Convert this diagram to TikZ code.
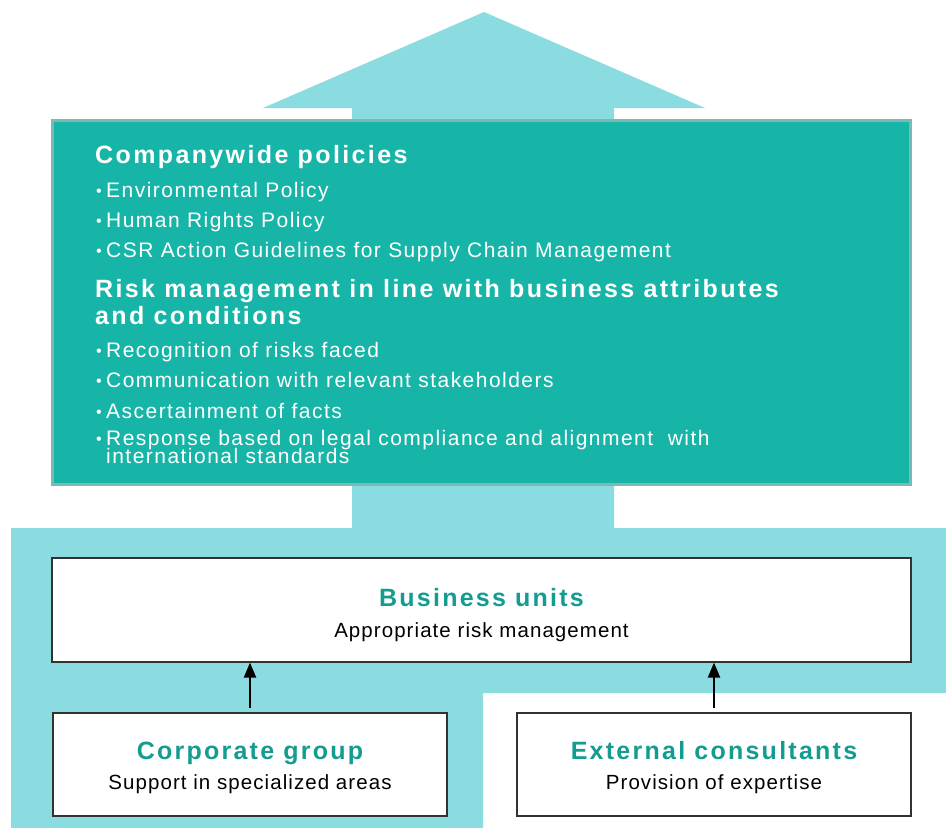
\documentclass[tikz,border=0pt]{standalone}
\usepackage{fontspec}
\setmainfont{Liberation Sans}
\newfontfamily\spA[LetterSpace=9.5]{Liberation Sans}
\newfontfamily\spB[LetterSpace=7]{Liberation Sans}
\newfontfamily\spC[LetterSpace=5.2]{Liberation Sans}
\newfontfamily\spD[LetterSpace=9]{Liberation Sans}
\usetikzlibrary{arrows.meta}
\definecolor{lightbg}{RGB}{138,220,224}
\definecolor{tealbox}{RGB}{23,181,168}
\definecolor{tealedge}{RGB}{122,186,181}
\definecolor{headteal}{RGB}{19,156,144}
\definecolor{boxedge}{RGB}{50,50,50}
\tikzset{
  titletext/.style={anchor=base west, text=white, inner sep=0pt, font=\spA\bfseries\fontsize{25}{28}\selectfont},
  bullettext/.style={anchor=base west, text=white, inner sep=0pt, font=\spB\fontsize{21}{24}\selectfont},
  whitebox/.style={draw=boxedge, line width=1.1pt, fill=white, inner sep=0pt},
  boxhead/.style={anchor=base, text=headteal, inner sep=0pt, font=\spD\bfseries\fontsize{25}{28}\selectfont},
  boxsub/.style={anchor=base, text=black, inner sep=0pt, font=\spC\fontsize{20.5}{24}\selectfont},
  uparrow/.style={-{Triangle[length=15pt,width=12pt]}, line width=2pt, black},
}
\newcommand{\bul}{\makebox[12pt][l]{\hspace{2pt}\raisebox{1pt}{\fontsize{16}{16}\selectfont\textbullet}}}
\begin{document}
\begin{tikzpicture}[x=1pt,y=-1pt]
\useasboundingbox (0,0) rectangle (946,828);
% light background shapes
\fill[lightbg] (11,528) -- (946,528) -- (946,693) -- (483,693) -- (483,828) -- (11,828) -- cycle;
\fill[lightbg] (352,528) -- (352,108) -- (263,108) -- (484,12) -- (705,108) -- (614,108) -- (614,528) -- cycle;
% teal box
\node[draw=tealedge, line width=2.5pt, fill=tealbox, minimum width=858pt, minimum height=364pt, inner sep=0pt] (policy) at (481.5,302.5) {};
\node[titletext] (t1) at (95,163) {Companywide policies};
\node[bullettext] (b1) at (94,197) {\bul Environmental Policy};
\node[bullettext] (b2) at (94,227) {\bul Human Rights Policy};
\node[bullettext] (b3) at (94,257) {\bul CSR Action Guidelines for Supply Chain Management};
\node[titletext] (t2) at (95,297) {Risk management in line with business attributes};
\node[titletext] (t3) at (95,324) {and conditions};
\node[bullettext] (b4) at (94,357) {\bul Recognition of risks faced};
\node[bullettext] (b5) at (94,387) {\bul Communication with relevant stakeholders};
\node[bullettext] (b6) at (94,418) {\bul Ascertainment of facts};
\node[bullettext] (b7) at (94,445) {\bul Response based on legal compliance and alignment\ \ with};
\node[bullettext] (b8) at (106,463) {international standards};
% white boxes
\node[whitebox, minimum width=859pt, minimum height=104pt] (bu) at (481.5,610) {};
\node[boxhead] (buh) at (481.5,606) {Business units};
\node[boxsub] (bus) at (481.5,637) {Appropriate risk management};
\node[whitebox, minimum width=394pt, minimum height=103pt] (cg) at (250,764.5) {};
\node[boxhead] (cgh) at (250,759) {Corporate group};
\node[boxsub] (cgs) at (250,789) {Support in specialized areas};
\node[whitebox, minimum width=394pt, minimum height=103pt] (ec) at (714,764.5) {};
\node[boxhead] (ech) at (714,759) {External consultants};
\node[boxsub] (ecs) at (714,789) {Provision of expertise};
% arrows
\draw[uparrow] ([yshift=4pt]cg.north) -- (cg.north |- bu.south);
\draw[uparrow] ([yshift=4pt]ec.north) -- (ec.north |- bu.south);
\end{tikzpicture}
\end{document}
